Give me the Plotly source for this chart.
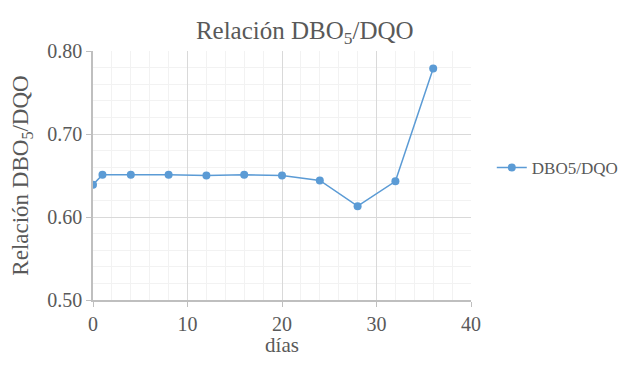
import plotly.graph_objects as go

dias = [0, 1, 4, 8, 12, 16, 20, 24, 28, 32, 36]
relacion = [0.639, 0.651, 0.651, 0.651, 0.650, 0.651, 0.650, 0.644, 0.613, 0.643, 0.779]

serie_nombre = "DBO5/DQO"
titulo = "Relación DBO<sub>5</sub>/DQO"
titulo_y = "Relación DBO<sub>5</sub>/DQO"
titulo_x = "días"

color = "#5b9bd5"
txt = "#595959"
font_family = "Liberation Serif, Times New Roman, serif"

fig = go.Figure()
fig.add_trace(go.Scatter(
    x=dias, y=relacion, mode="lines+markers", name=serie_nombre,
    line=dict(color=color, width=1.5),
    marker=dict(color=color, size=8),
))

fig.update_layout(
    width=617, height=349,
    margin=dict(l=85, r=154, t=43, b=57, autoexpand=False),
    paper_bgcolor="white", plot_bgcolor="white",
    font=dict(family=font_family, color=txt, size=18),
    title=dict(text=titulo, x=0.481, xanchor="center", y=0.936, yanchor="middle",
               font=dict(size=25, color=txt)),
    showlegend=True,
    legend=dict(x=1.055, y=0.53, xanchor="left", yanchor="middle",
                font=dict(size=17, color=txt), bgcolor="rgba(0,0,0,0)"),
)

fig.update_xaxes(
    range=[0, 40], dtick=10, tick0=0,
    showgrid=True, gridcolor="#d9d9d9", gridwidth=1,
    minor=dict(dtick=2, showgrid=True, gridcolor="#f2f2f2", gridwidth=1),
    showline=True, linecolor="#bfbfbf", linewidth=1.5, mirror=False,
    ticks="outside", ticklen=5, tickcolor="#bfbfbf",
    zeroline=False, automargin=False,
    title=dict(text=titulo_x, font=dict(size=21, color=txt), standoff=13),
    tickfont=dict(size=20, color=txt),
)
fig.update_yaxes(
    range=[0.50, 0.80], dtick=0.10, tick0=0.5, tickformat=".2f",
    showgrid=True, gridcolor="#d9d9d9", gridwidth=1,
    minor=dict(dtick=0.02, showgrid=True, gridcolor="#f2f2f2", gridwidth=1),
    showline=True, linecolor="#bfbfbf", linewidth=1.5,
    ticks="outside", ticklen=5, tickcolor="#bfbfbf",
    zeroline=False, automargin=False,
    title=dict(text=titulo_y, font=dict(size=23, color=txt), standoff=16),
    tickfont=dict(size=20, color=txt),
)

fig.write_html("out.html")
